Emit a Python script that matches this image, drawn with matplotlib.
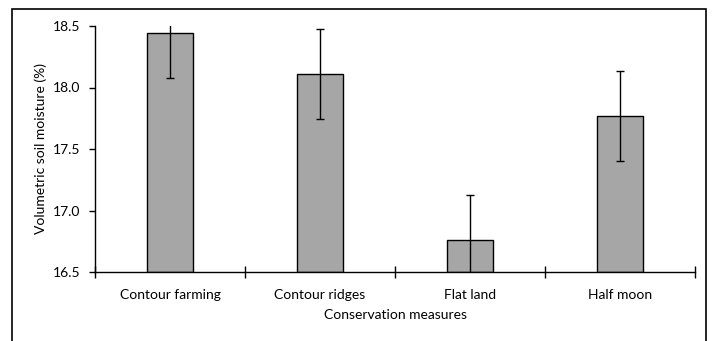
import matplotlib.pyplot as plt
from matplotlib.patches import Rectangle

categories = ["Contour farming", "Contour ridges", "Flat land", "Half moon"]
moisture = [18.44, 18.11, 16.76, 17.77]
errors = [0.365, 0.365, 0.365, 0.365]

plt.rcParams['font.family'] = ['Lato', 'DejaVu Sans']

fig = plt.figure(figsize=(7.14, 3.41), dpi=100)
ax = fig.add_axes([95 / 714, 1 - 272 / 341, 600 / 714, 246 / 341])

x = range(len(categories))
ax.bar(x, [m - 16.5 for m in moisture], bottom=16.5, width=0.31,
       color='#a6a6a6', edgecolor='black', linewidth=1.0)
ax.errorbar(x, moisture, yerr=errors, fmt='none', ecolor='black',
            elinewidth=1.0, capsize=3, capthick=1.0)

ax.set_xlim(-0.5, len(categories) - 0.5)
ax.set_ylim(16.5, 18.5)
ax.set_yticks([16.5, 17.0, 17.5, 18.0, 18.5])
ax.set_yticklabels(['16.5', '17.0', '17.5', '18.0', '18.5'])
ax.set_xticks(list(x))
ax.set_xticklabels(categories)
ax.set_xticks([i - 0.5 for i in range(len(categories) + 1)], minor=True)
ax.tick_params(axis='x', which='major', length=0, pad=12, labelsize=10)
ax.tick_params(axis='x', which='minor', direction='inout', length=8, width=1)
ax.tick_params(axis='y', direction='out', length=4.5, width=1, labelsize=10, pad=6)

for s in ['top', 'right']:
    ax.spines[s].set_visible(False)
for s in ['left', 'bottom']:
    ax.spines[s].set_linewidth(1.0)

ax.set_ylabel('Volumetric soil moisture (%)', fontsize=10, labelpad=4)
ax.set_xlabel('Conservation measures', fontsize=10, labelpad=6)

fig.patches.append(Rectangle((12 / 714, -0.1), 694 / 714, 1.1 - 9 / 341,
                             transform=fig.transFigure, fill=False,
                             edgecolor='black', linewidth=1.2))

fig.savefig('out.png', dpi=100)
